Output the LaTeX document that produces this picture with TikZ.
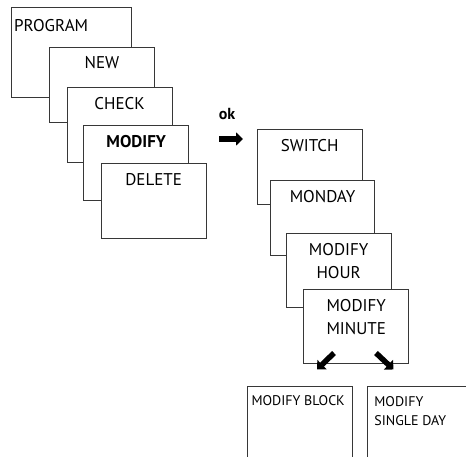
\documentclass[tikz,border=0pt]{standalone}
\usepackage{fontspec}
\setmainfont{PT Sans}
\usetikzlibrary{arrows.meta,positioning}
\definecolor{boxgray}{RGB}{55,55,55}
\begin{document}
\begin{tikzpicture}[x=1pt,y=-1pt,>={Triangle[length=7pt,width=13pt]},
    main node/.style={rectangle,draw=boxgray,line width=0.9pt,fill=white,anchor=north west,
      minimum width=105pt,minimum height=75pt,inner sep=0pt},
    title/.style={below=10pt,inner sep=0pt,align=center,font=\fontsize{17}{23}\selectfont},
    small title/.style={title,align=left,font=\fontsize{14}{19}\selectfont},
    fat arrow/.style={->,line width=5.5pt}]
  \useasboundingbox (0,0) rectangle (466,457);
  % program menu
  \node[main node,minimum width=120pt,minimum height=90pt,
        label={[title,below right=12pt and 3.5pt]north west:PROGRAM}] (1) at (10.5,7.3) {};
  \node[main node,label={[title]north:NEW}]    (2) at (49,46.7) {};
  \node[main node,label={[title]north:CHECK}]  (3) at (66.7,86.7) {};
  \node[main node,label={[title]north:\textbf{MODIFY}}] (4) at (83.3,125.3) {};
  \node[main node,label={[title]north:DELETE}] (5) at (100.7,163.3) {};
  % ok
  \node[font=\fontsize{16}{18}\selectfont\bfseries,inner sep=0pt] (ok) at (227,114) {ok};
  \coordinate (okl) at (219,139);
  \coordinate (okr) at (243,139);
  \draw[fat arrow] (okl) -- (okr);
  % modify menu
  \node[main node,label={[title]north:SWITCH}] (6) at (256.7,129.3) {};
  \node[main node,minimum width=103.5pt,label={[title]north:MONDAY}] (7) at (270.3,180.3) {};
  \node[main node,minimum height=73.5pt,label={[title]north:MODIFY\\HOUR}] (8) at (285.7,233.3) {};
  \node[main node,minimum height=74.3pt,label={[title]north:MODIFY\\MINUTE}] (9) at (303.3,289) {};
  \coordinate (a1) at (334,353);
  \coordinate (b1) at (317,369.5);
  \coordinate (a2) at (376,353);
  \coordinate (b2) at (393.5,369.5);
  \draw[fat arrow] (a1) -- (b1);
  \draw[fat arrow] (a2) -- (b2);
  \node[main node,minimum height=100pt,
        label={[small title,below right=9pt and 4pt]north west:MODIFY BLOCK}] (10) at (247.3,386) {};
  \node[main node,minimum width=115pt,minimum height=100pt,
        label={[small title,below right=10pt and 7.5pt]north west:MODIFY\\SINGLE DAY}] (11) at (366.7,386) {};
\end{tikzpicture}
\end{document}
